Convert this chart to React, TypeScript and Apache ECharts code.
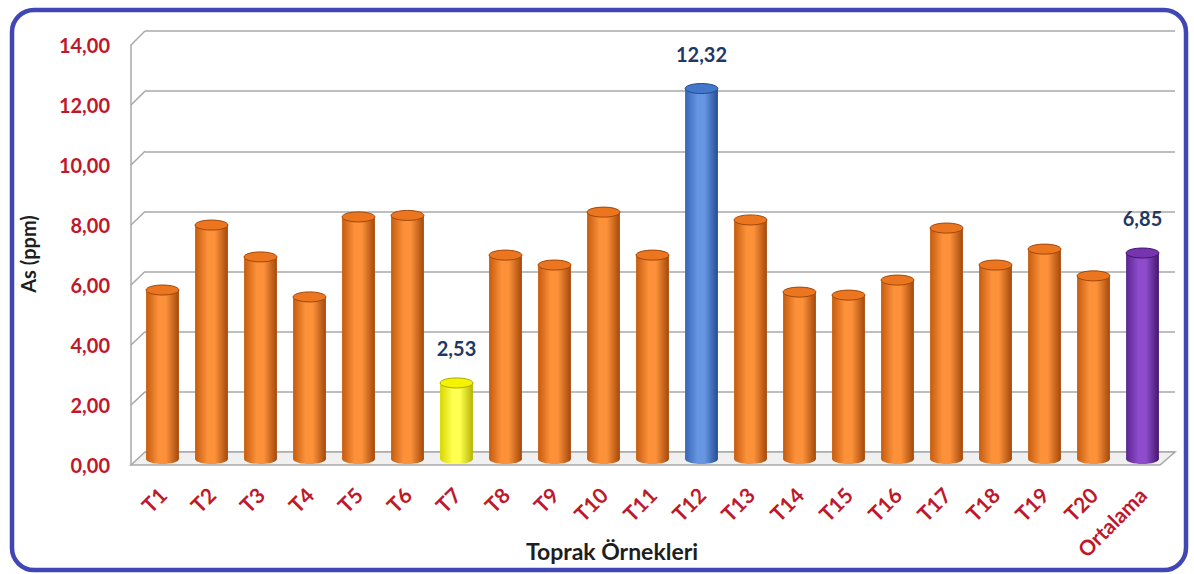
import React, { useEffect, useRef } from "react";
import * as echarts from "echarts";

const categories = [
  "T1", "T2", "T3", "T4", "T5", "T6", "T7", "T8", "T9", "T10",
  "T11", "T12", "T13", "T14", "T15", "T16", "T17", "T18", "T19", "T20", "Ortalama",
];
const asValues = [
  5.62, 7.78, 6.72, 5.39, 8.05, 8.1, 2.53, 6.78, 6.45, 8.21,
  6.78, 12.32, 7.95, 5.55, 5.45, 5.95, 7.68, 6.45, 6.98, 6.09, 6.85,
];
const yTicks = [0, 2, 4, 6, 8, 10, 12, 14];
const labelledCategories = ["T7", "T12", "Ortalama"];
const yTitle = "As (ppm)";
const xTitle = "Toprak Örnekleri";

const palettes: Record<string, { edge: string; mid: string; dark: string; top: string; topStroke: string }> = {
  default: { edge: "#C55C0E", mid: "#FC913A", dark: "#A4480A", top: "#EC7620", topStroke: "#A0470A" },
  T7: { edge: "#D6D600", mid: "#FFFF50", dark: "#B5B500", top: "#F4F400", topStroke: "#A9A900" },
  T12: { edge: "#3565B5", mid: "#6696E2", dark: "#244C92", top: "#4377CA", topStroke: "#234A8E" },
  Ortalama: { edge: "#5A2590", mid: "#8E4CCC", dark: "#44176E", top: "#7634AE", topStroke: "#42166B" },
};

const fmt = (v: number) => v.toFixed(2).replace(".", ",");
const FONT = "Lato, 'Open Sans', sans-serif";
const RED = "#C0182A";
const GRID_COLOR = "#A8A8A8";

export default function App() {
  const ref = useRef<HTMLDivElement>(null);
  useEffect(() => {
    if (!ref.current) return;
    const chart = echarts.init(ref.current, null, { renderer: "svg" });
    const minY = yTicks[0];
    const maxY = yTicks[yTicks.length - 1];
    const step = yTicks[1] - yTicks[0];

    const option: any = {
      animation: false,
      backgroundColor: "#ffffff",
      grid: [
        { left: 145, right: 19, top: 31, bottom: 122 },
        { left: 138, right: 27, top: 38, bottom: 115 },
        { left: 131, right: 34, top: 45, bottom: 109 },
      ],
      xAxis: [
        { gridIndex: 0, type: "value", min: 0, max: 1, show: false },
        {
          gridIndex: 1,
          type: "category",
          data: categories,
          axisLine: { show: false },
          axisTick: { show: false },
          axisLabel: {
            rotate: 45,
            margin: 32,
            color: RED,
            fontFamily: FONT,
            fontWeight: "bold",
            fontSize: 21,
            interval: 0,
          },
        },
        { gridIndex: 2, type: "value", min: 0, max: 1, show: false },
      ],
      yAxis: [
        {
          gridIndex: 0,
          type: "value",
          min: minY,
          max: maxY,
          interval: step,
          axisLine: { show: false },
          axisTick: { show: false },
          axisLabel: { show: false },
          splitLine: { show: true, lineStyle: { color: GRID_COLOR, width: 1.5 } },
        },
        { gridIndex: 1, type: "value", min: minY, max: maxY, interval: step, show: false },
        {
          gridIndex: 2,
          type: "value",
          min: minY,
          max: maxY,
          interval: step,
          axisLine: { show: true, lineStyle: { color: GRID_COLOR, width: 1.5 } },
          axisTick: { show: false },
          splitLine: { show: false },
          axisLabel: {
            margin: 21,
            color: RED,
            fontFamily: FONT,
            fontWeight: "bold",
            fontSize: 20,
            formatter: (v: number) => fmt(v),
          },
        },
      ],
      series: [
        { type: "line", xAxisIndex: 0, yAxisIndex: 0, data: [] },
        { type: "line", xAxisIndex: 2, yAxisIndex: 2, data: [] },
        {
          type: "custom",
          xAxisIndex: 1,
          yAxisIndex: 1,
          z: 5,
          data: categories.map((c, i) => [i, asValues[i]]),
          encode: { x: 0, y: 1 },
          renderItem: (params: any, api: any) => {
            const idx = api.value(0);
            const v = api.value(1);
            const top = api.coord([idx, v]);
            const base = api.coord([idx, 0]);
            const w = api.size([1, 0])[0] * 0.67;
            const cx = top[0];
            const ry = 5;
            const name = categories[idx];
            const p = palettes[name] || palettes.default;
            const grad = new echarts.graphic.LinearGradient(0, 0, 1, 0, [
              { offset: 0, color: p.edge },
              { offset: 0.38, color: p.mid },
              { offset: 0.6, color: p.mid },
              { offset: 1, color: p.dark },
            ]);
            const children: any[] = [
              { type: "ellipse", shape: { cx, cy: base[1], rx: w / 2, ry }, style: { fill: grad } },
              {
                type: "rect",
                shape: { x: cx - w / 2, y: top[1], width: w, height: base[1] - top[1] },
                style: { fill: grad },
              },
              {
                type: "ellipse",
                shape: { cx, cy: top[1], rx: w / 2, ry },
                style: { fill: p.top, stroke: p.topStroke, lineWidth: 1 },
              },
            ];
            if (labelledCategories.includes(name)) {
              children.push({
                type: "text",
                style: {
                  text: fmt(v),
                  x: cx,
                  y: top[1] - 35,
                  align: "center",
                  verticalAlign: "middle",
                  fill: "#1F3864",
                  font: `bold 20px ${FONT}`,
                },
              });
            }
            return { type: "group", children };
          },
        },
      ],
    };
    chart.setOption(option);

    const yb = (t: number) => chart.convertToPixel({ yAxisIndex: 0 }, t) as number;
    const yf = (t: number) => chart.convertToPixel({ yAxisIndex: 2 }, t) as number;
    const xb0 = chart.convertToPixel({ xAxisIndex: 0 }, 0) as number;
    const xb1 = chart.convertToPixel({ xAxisIndex: 0 }, 1) as number;
    const xf0 = chart.convertToPixel({ xAxisIndex: 2 }, 0) as number;
    const xf1 = chart.convertToPixel({ xAxisIndex: 2 }, 1) as number;

    const graphics: any[] = [
      {
        type: "rect",
        z: 100,
        shape: { x: 12, y: 10, width: 1174, height: 560, r: 22 },
        style: { fill: "none", stroke: "#4047B5", lineWidth: 4.5 },
      },
      {
        type: "polygon",
        z: 1,
        shape: {
          points: [
            [xf0, yf(minY)],
            [xf1, yf(minY)],
            [xb1, yb(minY)],
            [xb0, yb(minY)],
          ],
        },
        style: { fill: "#F0F0F0", stroke: GRID_COLOR, lineWidth: 1.5 },
      },
      {
        type: "text",
        z: 10,
        x: 612,
        y: 551,
        style: {
          text: xTitle,
          align: "center",
          verticalAlign: "middle",
          fill: "#1E1E1E",
          font: `bold 23px ${FONT}`,
        },
      },
      {
        type: "text",
        z: 10,
        x: 28,
        y: 254,
        rotation: Math.PI / 2,
        style: {
          text: yTitle,
          align: "center",
          verticalAlign: "middle",
          fill: "#1E1E1E",
          font: `bold 20px ${FONT}`,
        },
      },
    ];
    yTicks.forEach((t) => {
      if (t === minY) return;
      graphics.push({
        type: "line",
        z: 1,
        shape: { x1: xf0, y1: yf(t), x2: xb0, y2: yb(t) },
        style: { stroke: GRID_COLOR, lineWidth: 1.5 },
      });
    });
    chart.setOption({ graphic: graphics });

    return () => chart.dispose();
  }, []);

  return (
    <div
      ref={ref}
      style={{ position: "fixed", left: 0, top: 0, width: 1194, height: 574, background: "#fff" }}
    />
  );
}
